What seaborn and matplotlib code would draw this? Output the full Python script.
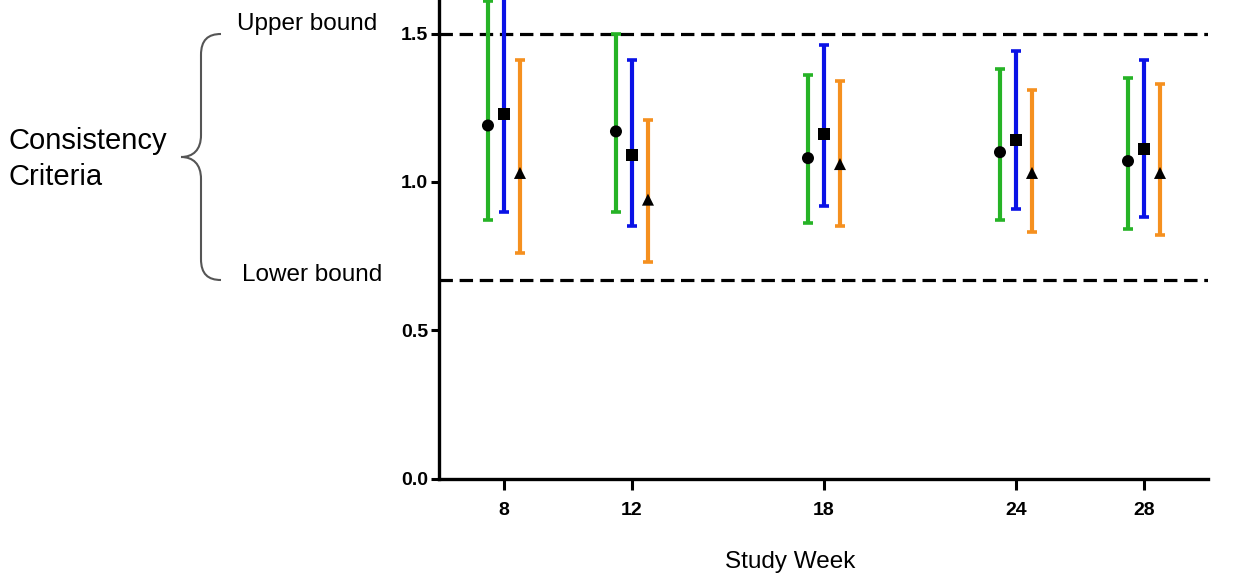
import numpy as np
import pandas as pd
import matplotlib
matplotlib.use('Agg')
import matplotlib.pyplot as plt
from matplotlib.path import Path
from matplotlib.patches import PathPatch
import seaborn as sns

# data
weeks = [8, 12, 18, 24, 28]
week_labels = ['8', '12', '18', '24', '28']
series_names = ['Group 1', 'Group 2', 'Group 3']

green_mid = [1.19, 1.17, 1.08, 1.10, 1.07]
green_lo = [0.87, 0.90, 0.86, 0.87, 0.84]
green_hi = [1.61, 1.50, 1.36, 1.38, 1.35]

blue_mid = [1.23, 1.09, 1.16, 1.14, 1.11]
blue_lo = [0.90, 0.85, 0.92, 0.91, 0.88]
blue_hi = [1.70, 1.41, 1.46, 1.44, 1.41]

orange_mid = [1.03, 0.94, 1.06, 1.03, 1.03]
orange_lo = [0.76, 0.73, 0.85, 0.83, 0.82]
orange_hi = [1.41, 1.21, 1.34, 1.31, 1.33]

upper_bound = 1.5
lower_bound = 0.67

colors = ['#26b326', '#0a12e6', '#f5901f']
markers = {'Group 1': 'o', 'Group 2': 's', 'Group 3': '^'}
offsets = [-0.5, 0.0, 0.5]

rows = []
for name, mid, lo, hi, off in zip(series_names,
                                  [green_mid, blue_mid, orange_mid],
                                  [green_lo, blue_lo, orange_lo],
                                  [green_hi, blue_hi, orange_hi],
                                  offsets):
    for w, m, l, h in zip(weeks, mid, lo, hi):
        rows.append({'series': name, 'week': w, 'pos': w + off, 'mid': m, 'lo': l, 'hi': h})
df = pd.DataFrame(rows)

sns.set_theme(style='ticks')
plt.rcParams['font.family'] = ['Liberation Sans', 'DejaVu Sans']
plt.rcParams['text.color'] = 'black'
plt.rcParams['axes.labelcolor'] = 'black'
plt.rcParams['xtick.color'] = 'black'
plt.rcParams['ytick.color'] = 'black'

W, H = 1240, 586
fig = plt.figure(figsize=(W / 100, H / 100), dpi=100)
ax = fig.add_axes([439 / W, 1 - 478.5 / H, (1208 - 439) / W, 478.5 / H])

# confidence intervals
for name, c in zip(series_names, colors):
    d = df[df['series'] == name]
    ax.errorbar(d['pos'], d['mid'], yerr=[d['mid'] - d['lo'], d['hi'] - d['mid']],
                fmt='none', ecolor=c, elinewidth=3, capsize=3.8, capthick=2.6, zorder=2)

sns.scatterplot(data=df, x='pos', y='mid', style='series', markers=markers,
                color='black', s=75, linewidth=0, legend=False, ax=ax, zorder=3)

for b in [upper_bound, lower_bound]:
    ax.axhline(b, color='black', lw=2.3, dashes=(4.2, 2.1), zorder=1)

ax.set_xlim(5.97, 30)
ax.set_ylim(0, 1.613)
ax.set_xticks(weeks)
ax.set_xticklabels(week_labels)
ax.set_yticks([0.0, 0.5, 1.0, 1.5])
ax.set_yticklabels(['0.0', '0.5', '1.0', '1.5'])
ax.set_xlabel('Study Week', fontsize=17.5)
ax.xaxis.set_label_coords((790 - 439) / (1208 - 439), -(562 - 478.5) / 478.5)
ax.xaxis.label.set_va('center')
ax.set_ylabel('')
for lab in ax.get_xticklabels() + ax.get_yticklabels():
    lab.set_fontweight('bold')
    lab.set_fontsize(14)
ax.tick_params(axis='both', width=2.2, length=6)
ax.tick_params(axis='x', pad=9, length=8)
ax.tick_params(axis='y', pad=2)
sns.despine(ax=ax)
for sp in ['left', 'bottom']:
    ax.spines[sp].set_linewidth(2.4)
    ax.spines[sp].set_color('black')
ax.patch.set_alpha(0)

# brace and annotations on the left
def fc(x, y):
    return (x / W, 1 - y / H)

verts = [fc(221, 34), fc(208, 34), fc(201, 40), fc(201, 55),
         fc(201, 135),
         fc(201, 150), fc(193, 157), fc(181, 157),
         fc(193, 157), fc(201, 164), fc(201, 179),
         fc(201, 259),
         fc(201, 274), fc(208, 280), fc(221, 280)]
codes = [Path.MOVETO, Path.CURVE4, Path.CURVE4, Path.CURVE4,
         Path.LINETO,
         Path.CURVE4, Path.CURVE4, Path.CURVE4,
         Path.CURVE4, Path.CURVE4, Path.CURVE4,
         Path.LINETO,
         Path.CURVE4, Path.CURVE4, Path.CURVE4]
fig.patches.append(PathPatch(Path(verts, codes), transform=fig.transFigure,
                             facecolor='none', edgecolor='#555555', lw=1.5))

fig.text(237 / W, 1 - 24 / H, 'Upper bound', fontsize=17.5, ha='left', va='center')
fig.text(242 / W, 1 - 275 / H, 'Lower bound', fontsize=17.5, ha='left', va='center')
fig.text(9 / W, 1 - 141 / H, 'Consistency', fontsize=21, ha='left', va='center')
fig.text(9 / W, 1 - 177 / H, 'Criteria', fontsize=21, ha='left', va='center')

fig.savefig('out.png', dpi=100, facecolor='white')
